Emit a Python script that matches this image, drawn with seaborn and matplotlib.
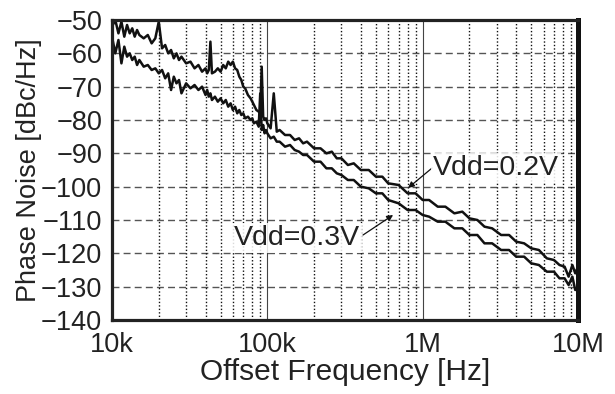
import matplotlib
matplotlib.use("Agg")
import matplotlib.pyplot as plt
import seaborn as sns
import pandas as pd
import numpy as np
from matplotlib.ticker import FixedLocator, FixedFormatter, NullFormatter

# Offset frequency grid (kHz)
freq_khz = [10, 10.5, 11, 11.5, 12, 12.5, 13, 13.5, 14, 14.5, 15, 16, 17, 18, 19, 20,
            21, 22, 23, 24, 25, 26, 27, 28, 30, 32, 34, 36, 38, 40, 41, 42, 43, 44, 46,
            48, 50, 52, 54, 56, 58, 60, 62, 64, 66, 68, 70, 72, 75, 78, 80, 82, 85, 88,
            90, 92, 94, 96, 98, 100, 105, 110, 115, 120, 130, 140, 150, 160, 170, 180,
            200, 220, 240, 260, 280, 300, 330, 360, 400, 450, 500, 550, 600, 700, 800,
            900, 1000, 1100, 1250, 1400, 1600, 1800, 2000, 2250, 2500, 2800, 3200, 3600,
            4000, 4500, 5000, 5600, 6300, 7000, 7600, 8200, 8700, 9200, 9600, 10000]

# Phase noise, Vdd = 0.2 V (dBc/Hz)
pn_02v = [-52, -50, -54, -50.5, -55, -51.5, -54, -52.5, -55, -53, -54.5, -55.5, -54.5, -57, -55.5, -50.5,
          -58.5, -57.5, -60, -59, -61.5, -60, -62, -61, -63, -62.5, -64.5, -63.5, -65.5, -64.5, -66, -65, -56.5, -66, -65.5,
          -64.5, -65.5, -63.5, -64.5, -62.5, -63.5, -62.5, -64.5, -65, -67, -68, -70, -70.5, -72.5, -73.5, -74.5, -75.5, -77, -77.5,
          -78, -64, -79, -80, -79.5, -81, -82.5, -72, -83.5, -83, -84.5, -84.5, -86, -85.5, -87,
          -86.5, -88.5, -88.5, -90, -89.5, -91.5, -91.5, -93.5, -93, -95, -95, -97, -97, -99, -99.5, -102,
          -102, -104, -104, -106, -106, -108, -107.5, -109.5, -110, -112, -112.5, -114.5,
          -114.5, -116.5, -117, -118.5, -119, -121.5, -122, -123.5, -124, -127, -123.5, -126, -124]

# Phase noise, Vdd = 0.3 V (dBc/Hz)
pn_03v = [-55, -60, -56, -63, -58, -61, -60, -62, -61, -63.5, -62, -64, -63.5, -65, -64.5, -66,
          -65, -67.5, -66, -71, -67, -69, -68, -72, -69, -70.5, -69.5, -71, -70, -72.5, -71, -73, -72, -74, -73,
          -74.5, -73.5, -75, -74, -76, -75, -77, -76, -78, -77, -78.5, -78, -79.5, -79, -80, -79.5, -81, -80.5, -82,
          -72, -83, -81.5, -84, -83, -84, -85.5, -85, -86.5, -86.5, -88, -87.5, -89, -89.5, -90.5, -90.5,
          -92.5, -92.5, -94.5, -94.5, -96, -96.5, -98, -98, -100, -100.5, -102, -102, -104, -105, -107,
          -107, -108.5, -109, -110.5, -110.5, -112.5, -112.5, -114.5, -114.5, -117, -117, -119, -119,
          -121, -121, -123, -123.5, -125.5, -125.5, -127.5, -127.5, -129.5, -127, -131, -130]

x_ticks = [1e4, 1e5, 1e6, 1e7]
x_tick_labels = ["10k", "100k", "1M", "10M"]
y_ticks = list(range(-140, -49, 10))

sns.set_theme(style="white")
plt.rcParams["font.family"] = ["Liberation Sans", "DejaVu Sans"]

df = pd.DataFrame({
    "freq": np.array(freq_khz * 2) * 1e3,
    "pn": pn_02v + pn_03v,
    "vdd": ["0.2V"] * len(freq_khz) + ["0.3V"] * len(freq_khz),
})

fig = plt.figure(figsize=(6.15, 3.94), dpi=100)
ax = fig.add_axes([112 / 615, 74 / 394, 466 / 615, 300 / 394])
ax.set_xscale("log")

for v in ["0.2V", "0.3V"]:
    sns.lineplot(data=df[df.vdd == v], x="freq", y="pn", ax=ax, color="#111111",
                 linewidth=1.8, estimator=None, sort=False, legend=False)

ax.set_xlim(1e4, 1e7)
ax.set_ylim(-140, -50)

ax.xaxis.set_major_locator(FixedLocator(x_ticks))
ax.xaxis.set_major_formatter(FixedFormatter(x_tick_labels))
minor = [m * d for d in [1e4, 1e5, 1e6] for m in range(2, 10)]
ax.xaxis.set_minor_locator(FixedLocator(minor))
ax.xaxis.set_minor_formatter(NullFormatter())
ax.set_yticks(y_ticks)

# grid
for yv in y_ticks[1:-1]:
    ax.axhline(yv, color="#555555", lw=1.0, dashes=(5, 3), zorder=0)
for xv in minor:
    ax.axvline(xv, color="#111111", lw=1.0, dashes=(1, 1.5), zorder=0)
for xv in [1e5, 1e6]:
    ax.axvline(xv, color="#444444", lw=0.8, zorder=0)

ax.tick_params(axis="both", which="both", length=0, labelsize=19.5, colors="#222222")
ax.tick_params(axis="y", pad=7)
ax.tick_params(axis="x", pad=9)

for s in ["left", "bottom", "top"]:
    ax.spines[s].set_linewidth(2.3)
    ax.spines[s].set_color("#222222")
ax.spines["right"].set_linewidth(3.6)
ax.spines["right"].set_color("#111111")

ax.set_xlabel("Offset Frequency [Hz]", fontsize=21.5, color="#222222", labelpad=0)
ax.set_ylabel("Phase Noise [dBc/Hz]", fontsize=19.5, color="#222222", labelpad=-1)

# annotations
arrow = dict(arrowstyle="-|>", color="#111111", lw=0.9, mutation_scale=9, shrinkA=0, shrinkB=0)
box = dict(facecolor="white", edgecolor="none", alpha=0.85, pad=1.5)
ax.annotate("", xy=(8.05e5, -100.4), xytext=(1.15e6, -94.4), arrowprops=arrow)
ax.text(1.17e6, -94.4, "Vdd=0.2V", fontsize=20.5, ha="left", va="center", color="#222222", bbox=box)
ax.annotate("", xy=(6.45e5, -108.5), xytext=(4.13e5, -114.5), arrowprops=arrow)
ax.text(3.95e5, -115.4, "Vdd=0.3V", fontsize=20.5, ha="right", va="center", color="#222222", bbox=box)

fig.savefig("out.png", dpi=100)
